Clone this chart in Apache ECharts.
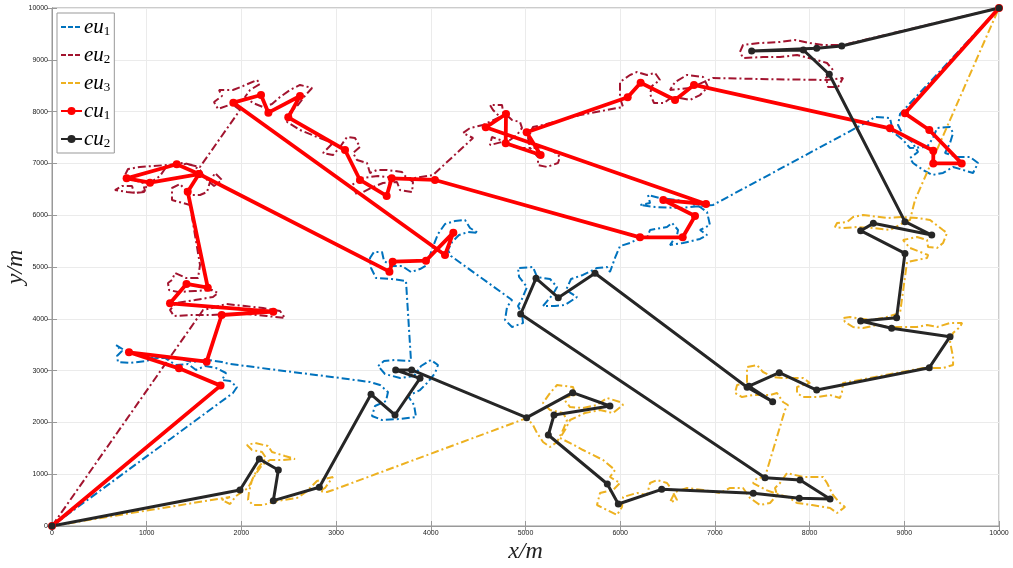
<!DOCTYPE html>
<html><head><meta charset="utf-8">
<script src="https://cdn.jsdelivr.net/npm/echarts@6/dist/echarts.min.js"></script>
<style>html,body{margin:0;padding:0;background:#fff}#c{width:1013px;height:568px}</style>
</head><body><div id="c"></div>
<script>
const seriesNames = ['eu1','eu2','eu3','cu1','cu2'];
const xTicks = [0,1000,2000,3000,4000,5000,6000,7000,8000,9000,10000];
const yTicks = [0,1000,2000,3000,4000,5000,6000,7000,8000,9000,10000];

const eu1 = [[0,0],[1911,2568],[1954,2683],[1880,2799],[1795,2819],[1837,2954],[1732,3050],[1616,3089],[1521,3012],[1436,3127],[1309,3108],[1193,3243],[1035,3243],[887,3320],[760,3398],[676,3494],[739,3378],[686,3282],[697,3166],[824,3147],[993,3185],[1140,3263],[1309,3243],[1478,3166],[1647,3205],[1795,3166],[1880,3127],[3041,2857],[3358,2780],[3464,2722],[3548,2587],[3527,2413],[3411,2317],[3379,2124],[3485,2046],[3675,2066],[3844,2104],[3823,2336],[3759,2510],[3886,2625],[3971,2780],[4045,2954],[4076,3108],[4002,3205],[3897,3089],[3823,2896],[3675,2857],[3516,2934],[3443,3089],[3506,3185],[3622,3205],[3791,3185],[3738,4730],[3590,4768],[3421,4788],[3369,4981],[3358,5174],[3400,5290],[3485,5290],[3506,5116],[3590,5019],[3696,5019],[3791,4903],[3886,4961],[3960,5039],[3992,5232],[4034,5444],[4076,5637],[4150,5830],[4256,5888],[4361,5907],[4414,5753],[4499,5656],[4393,5676],[4298,5618],[4224,5483],[4182,5328],[4213,5212],[4858,4363],[4805,4228],[4784,3977],[4858,3842],[4974,3919],[4963,4093],[4921,4247],[4963,4382],[5016,4614],[4932,4807],[4921,4981],[5079,5000],[5122,4807],[5259,4768],[5333,4614],[5291,4479],[5185,4247],[5312,4247],[5417,4266],[5544,4421],[5428,4556],[5481,4768],[5607,4846],[5755,4981],[5861,5000],[5892,4903],[5945,5174],[5998,5405],[6104,5463],[6209,5560],[6283,5560],[6315,5714],[6494,5772],[6547,5849],[6611,5714],[6600,5618],[6526,5425],[6663,5463],[6843,5541],[6917,5618],[6843,5714],[6948,5811],[6917,6062],[6843,6158],[6737,6236],[6600,6293],[6420,6332],[6294,6390],[6315,6236],[6209,6197],[6368,6158],[6632,6139],[6980,6197],[8606,7799],[8691,7896],[8849,7876],[8881,7606],[8987,7452],[9060,7297],[9240,7317],[9303,7490],[9346,7683],[9483,7703],[9515,7587],[9483,7394],[9430,7201],[9557,7124],[9694,7124],[9779,7008],[9726,6815],[9620,6873],[9515,6931],[9409,6815],[9293,6776],[9198,6873],[9092,7008],[9060,7104],[9145,7220],[9082,7413],[8987,7548],[8934,7741],[8955,7954],[10000,10000]];

const eu2 = [[0,0],[1595,4170],[1690,4208],[1837,4286],[2038,4247],[2228,4208],[2408,4151],[2460,4015],[2270,4054],[2059,4093],[1859,4093],[1668,4073],[1457,4073],[1288,4054],[1246,4170],[1309,4305],[1510,4363],[1700,4421],[1753,4498],[1690,4556],[1510,4537],[1331,4517],[1236,4556],[1225,4691],[1267,4749],[1299,4884],[1415,4788],[1542,4788],[1563,5039],[1510,5618],[1457,6197],[1267,6293],[1267,6525],[1352,6602],[1457,6390],[1563,6390],[1637,6448],[1668,6641],[1721,6815],[1795,6680],[1711,6564],[1616,6718],[1563,6873],[1478,6969],[1383,7008],[1214,6969],[1067,6950],[929,6931],[803,6892],[771,6776],[866,6680],[961,6622],[982,6467],[887,6429],[792,6448],[665,6486],[739,6564],[845,6564],[866,6429],[972,6448],[1003,6583],[1140,6757],[1214,6950],[1415,6988],[1563,6931],[1985,8031],[1901,8147],[1753,8050],[1711,8185],[1795,8301],[1764,8417],[1911,8417],[2017,8494],[2165,8610],[2196,8533],[2091,8417],[2038,8282],[2123,8166],[2228,8089],[2323,8147],[2408,8282],[2513,8417],[2619,8514],[2746,8456],[2661,8282],[2598,8127],[2513,7992],[2482,7799],[2619,7645],[2798,7510],[2967,7394],[2862,7201],[2967,7162],[3041,7317],[3115,7510],[3200,7490],[3252,7317],[3179,7201],[3221,7066],[3326,7008],[3358,6815],[3432,6873],[3538,6873],[3696,6834],[3728,6757],[3812,6641],[3802,6448],[3675,6486],[3643,6641],[3495,6622],[3390,6544],[3221,6390],[3168,6583],[3274,6718],[3443,6757],[3622,6718],[3833,6718],[4023,6776],[4446,7490],[4340,7587],[4414,7683],[4551,7741],[4731,7896],[4657,8031],[4625,8127],[4752,8127],[4763,7992],[4858,7838],[4942,7799],[4963,7683],[4910,7548],[4836,7452],[4625,7355],[4646,7510],[4763,7432],[4910,7297],[5079,7297],[5185,7317],[5280,7259],[5364,7124],[5343,7008],[5227,6931],[5132,6969],[5132,7124],[5048,7297],[5027,7490],[5079,7703],[5185,7741],[5576,7934],[6030,8089],[5998,8263],[5998,8571],[6104,8707],[6178,8764],[6283,8707],[6368,8745],[6420,8610],[6336,8494],[6315,8340],[6357,8166],[6463,8166],[6547,8282],[6632,8263],[6737,8224],[6843,8320],[6927,8475],[6875,8668],[6706,8707],[6579,8571],[6526,8417],[6737,8456],[6980,8649],[7476,8629],[8184,8610],[8353,8649],[8300,8475],[8195,8475],[8173,8649],[8247,8803],[8184,8938],[8078,8996],[7867,9093],[7688,9054],[7508,9054],[7297,9035],[7265,9151],[7297,9286],[7476,9324],[7688,9344],[7846,9382],[8004,9324],[8142,9286],[8353,9286],[10000,10000]];

const eu3 = [[0,0],[1880,560],[1795,502],[1880,425],[1943,579],[2070,734],[2144,985],[2218,1178],[2302,1274],[2439,1274],[2566,1293],[2460,1351],[2323,1429],[2281,1544],[2144,1602],[2059,1564],[2112,1467],[2218,1429],[2260,1313],[2175,1120],[2112,888],[2080,656],[2070,502],[2123,405],[2228,405],[2334,463],[2439,502],[2587,541],[2682,656],[2798,869],[2967,946],[2883,734],[2830,676],[2904,656],[2967,695],[5016,2085],[5079,1950],[5122,1795],[5185,1622],[5259,1525],[5333,1622],[5396,1853],[5438,2046],[5396,2181],[5259,2239],[5185,2375],[5259,2568],[5333,2722],[5502,2683],[5523,2529],[5396,2471],[5470,2297],[5607,2278],[5755,2336],[5861,2471],[5998,2394],[6030,2336],[5924,2181],[5787,2239],[5628,2181],[5470,2046],[5417,1853],[5364,1699],[5491,1583],[5607,1467],[5819,1274],[5945,1081],[5892,946],[5998,830],[5924,695],[5787,637],[5755,405],[5861,309],[5966,212],[6019,367],[6030,560],[6178,637],[6283,598],[6315,830],[6389,888],[6494,830],[6526,753],[6600,502],[6526,463],[6579,656],[6706,734],[6875,695],[7054,637],[7160,734],[7297,734],[7371,541],[7476,405],[7582,444],[7656,598],[7635,734],[7688,830],[7762,1023],[7931,946],[8142,946],[8184,830],[8247,598],[8321,444],[8374,367],[8290,251],[8216,347],[8026,405],[7867,444],[7772,560],[7688,598],[7540,695],[7403,830],[7445,927],[7529,946],[7740,2239],[7772,2336],[7719,2394],[7656,2568],[7582,2529],[7403,2529],[7286,2490],[7212,2568],[7234,2722],[7339,2761],[7339,3069],[7445,3108],[7508,2973],[7614,2876],[7719,2857],[7931,2857],[8004,2761],[7867,2683],[7867,2568],[7931,2490],[8078,2490],[8216,2529],[8321,2471],[8342,2587],[8353,2761],[9198,3050],[9409,3050],[9515,3108],[9515,3263],[9483,3552],[9515,3726],[9588,3842],[9610,3919],[9483,3919],[9346,3842],[9240,3880],[9134,3842],[8987,3842],[8849,3842],[8712,3880],[8564,3822],[8459,3842],[8374,3938],[8353,4015],[8427,4035],[8638,3977],[8775,4015],[8955,4112],[9029,5097],[9134,5135],[9240,5174],[9251,5232],[9060,5367],[8987,5521],[9134,5579],[9240,5521],[9251,5386],[9346,5367],[9409,5463],[9451,5656],[9409,5714],[9272,5907],[9134,5946],[8987,5965],[8818,5946],[8564,6004],[8459,5965],[8395,5869],[8290,5849],[8268,5772],[8353,5753],[8501,5772],[8670,5753],[8849,5714],[8987,5849],[9060,5907],[9113,6293],[10000,10000]];

const cu1 = [[0,0],[1780,2710],[1341,3044],[813,3353],[1633,3172],[1792,4073],[2337,4138],[1246,4299],[1420,4672],[1645,4600],[1433,6454],[1552,6795],[1317,6983],[788,6712],[1035,6628],[1552,6795],[3563,4910],[3597,5103],[3949,5122],[4238,5663],[4150,5232],[1915,8172],[2207,8320],[2285,7979],[2619,8301],[2495,7890],[3094,7259],[3252,6680],[3534,6371],[3587,6712],[4044,6680],[6209,5573],[6660,5573],[6790,5985],[6455,6293],[6906,6216],[4580,7697],[4794,7954],[4791,7388],[5160,7162],[5012,7600],[6079,8276],[6216,8558],[6579,8224],[6779,8514],[8849,7677],[9306,7245],[9306,7000],[9606,7000],[9264,7645],[9007,7967],[10000,10000]];

const cu2 = [[0,0],[1985,695],[2189,1293],[2390,1081],[2337,489],[2823,747],[3369,2542],[3622,2143],[3886,2851],[3629,3012],[3798,3012],[5012,2091],[5498,2574],[5892,2317],[5301,2143],[5241,1757],[5864,811],[5980,425],[6438,708],[7405,631],[7891,535],[8216,521],[7899,888],[7529,933],[4949,4093],[5111,4782],[5346,4408],[5734,4878],[7340,2680],[7610,2400],[7360,2700],[7680,2960],[8075,2625],[9264,3056],[9483,3655],[8866,3816],[8539,3958],[8919,4022],[9007,5263],[8539,5701],[8673,5843],[9290,5618],[9007,5875],[8208,8720],[7934,9189],[7388,9170],[8075,9222],[8339,9266],[10000,10000]];

const colors = {eu1:'#0072BD', eu2:'#A2142F', eu3:'#EDB120', cu1:'#FF0000', cu2:'#262626'};
const dash = [8,3,2,3];
const serif = "'Liberation Serif','DejaVu Serif',serif";

const chart = echarts.init(document.getElementById('c'), null, {renderer:'canvas'});
function euSeries(name, data){
  return {name, type:'line', data, symbol:'none', showSymbol:false, z:2,
    lineStyle:{color:colors[name], width:2, type:dash}, itemStyle:{color:colors[name]}};
}
function cuSeries(name, data, w, s){
  return {name, type:'line', data, symbol:'circle', symbolSize:s, z:3,
    lineStyle:{color:colors[name], width:w}, itemStyle:{color:colors[name]}};
}
const axisCommon = {type:'value', min:0, max:10000, interval:1000};
const legendData = seriesNames.map(n => n.startsWith('eu')
  ? {name:n, itemStyle:{opacity:0}, lineStyle:{color:colors[n], width:2, type:[5,2]}}
  : {name:n});
chart.setOption({
  animation:false,
  backgroundColor:'#fff',
  grid:{left:52, right:14, top:8, bottom:42, show:true, borderColor:'#999', borderWidth:1,
    containLabel:false, outerBoundsMode:'none'},
  legend:{
    data:legendData, orient:'vertical', left:57, top:13,
    backgroundColor:'#fff', borderColor:'#999', borderWidth:1, borderRadius:0,
    padding:[3,4,3,3], itemWidth:21, itemHeight:10, itemGap:6,
    formatter: n => '{i|' + n.slice(0,2) + '}{s|' + n.slice(2) + '}',
    textStyle:{color:'#000', padding:[0,0,0,-3], rich:{
      i:{fontFamily:serif, fontStyle:'italic', fontSize:21, color:'#000', lineHeight:22},
      s:{fontFamily:serif, fontSize:13, color:'#000', padding:[9,0,0,0], lineHeight:22}
    }}
  },
  xAxis:[
    Object.assign({}, axisCommon, {position:'bottom',
      name:'{i|x/m}', nameLocation:'middle', nameGap:14, nameMoveOverlap:false,
      nameTextStyle:{rich:{i:{fontFamily:serif, fontStyle:'italic', fontSize:24, color:'#222'}}},
      axisLine:{show:true, lineStyle:{color:'#999', width:1}},
      axisTick:{show:true, inside:true, length:5, lineStyle:{color:'#999'}},
      axisLabel:{show:true, fontSize:7, color:'#222', margin:4, fontFamily:'Liberation Sans, Arial, sans-serif',
        formatter: v => xTicks.includes(v) ? String(v) : ''},
      splitLine:{show:true, lineStyle:{color:'#ebebeb', width:1}}}),
    Object.assign({}, axisCommon, {position:'top',
      axisLine:{show:true, lineStyle:{color:'#999'}},
      axisTick:{show:true, inside:true, length:5, lineStyle:{color:'#999'}},
      axisLabel:{show:false}, splitLine:{show:false}})
  ],
  yAxis:[
    Object.assign({}, axisCommon, {position:'left',
      name:'{i|y/m}', nameLocation:'middle', nameGap:24, nameRotate:90, nameMoveOverlap:false,
      nameTextStyle:{rich:{i:{fontFamily:serif, fontStyle:'italic', fontSize:24, color:'#222'}}},
      axisLine:{show:true, lineStyle:{color:'#999', width:1}},
      axisTick:{show:true, inside:true, length:5, lineStyle:{color:'#999'}},
      axisLabel:{show:true, fontSize:7, color:'#222', margin:4, fontFamily:'Liberation Sans, Arial, sans-serif',
        formatter: v => yTicks.includes(v) ? String(v) : ''},
      splitLine:{show:true, lineStyle:{color:'#ebebeb', width:1}}}),
    Object.assign({}, axisCommon, {position:'right',
      axisLine:{show:true, lineStyle:{color:'#999'}},
      axisTick:{show:true, inside:true, length:5, lineStyle:{color:'#999'}},
      axisLabel:{show:false}, splitLine:{show:false}})
  ],
  series:[
    euSeries('eu1', eu1), euSeries('eu2', eu2), euSeries('eu3', eu3),
    cuSeries('cu1', cu1, 3.8, 8), cuSeries('cu2', cu2, 3, 7)
  ]
});
</script></body></html>
